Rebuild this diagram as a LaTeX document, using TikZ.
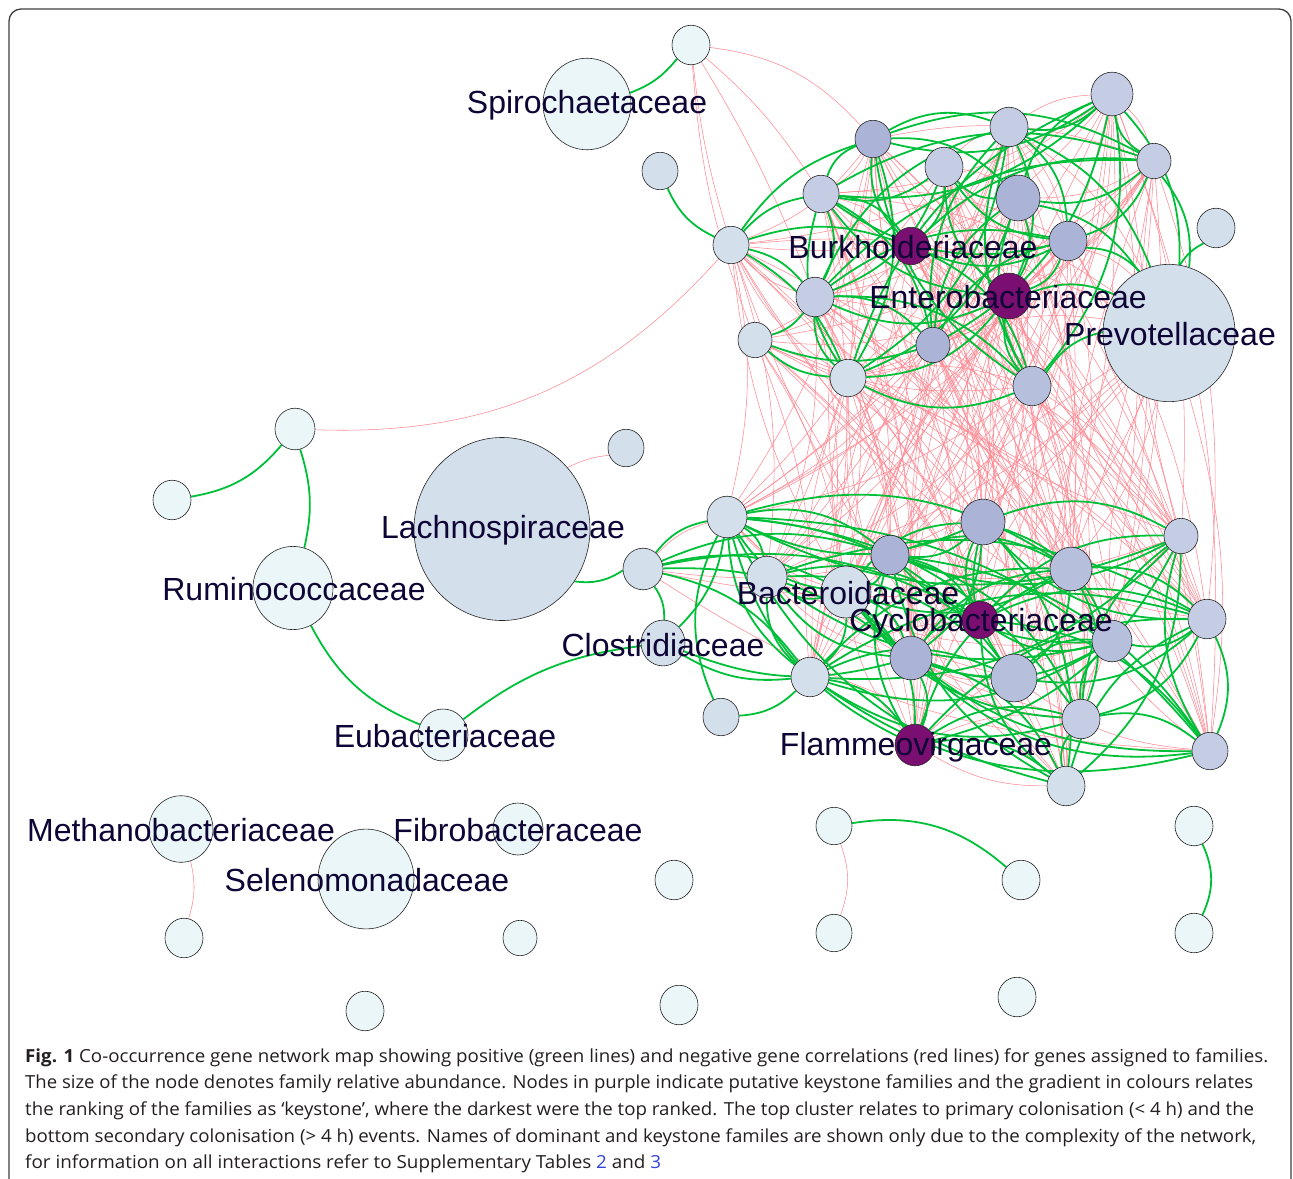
\documentclass[tikz,border=0pt]{standalone}
\usepackage{fontspec}
\usepackage{graphicx}
\usetikzlibrary{shapes.geometric}
\newfontfamily\lblfont{Liberation Sans}
\newfontfamily\capfont{Open Sans}
\definecolor{cvl}{HTML}{EBF6F8}
\definecolor{cl}{HTML}{D4DFEC}
\definecolor{cm}{HTML}{C4CDE3}
\definecolor{cmd}{HTML}{B6C0DD}
\definecolor{cd}{HTML}{ABB4D7}
\definecolor{cp}{HTML}{7A0E71}
\definecolor{gcol}{HTML}{00C03A}
\definecolor{rcol}{HTML}{FF8A94}
\definecolor{lblcol}{HTML}{0E0536}
\definecolor{capcol}{HTML}{231F20}
\definecolor{linkcol}{HTML}{3344DD}
\newsavebox\capbox
\newcommand\fitline[2]{\sbox\capbox{#2}\pgfmathsetmacro\fitsx{#1/\the\wd\capbox}\scalebox{\fitsx}[1]{\usebox\capbox}}
\newcommand\gnode[5]{\node[nd,minimum width=#4*2pt,minimum height=#4*2.08pt,fill=#5] (#1) at (#2,#3) {};}
\pgfdeclarelayer{bgl}
\pgfdeclarelayer{redl}
\pgfdeclarelayer{greenl}
\pgfdeclarelayer{lbll}
\pgfsetlayers{bgl,redl,greenl,main,lbll}
\begin{document}
\begin{tikzpicture}[x=1pt,y=-1pt,
  nd/.style={ellipse,draw=black!85,line width=0.6pt,inner sep=0pt},
  gline/.style={draw=gcol,line width=1.8pt},
  rline/.style={draw=rcol,line width=0.55pt},
  lbl/.style={font=\lblfont\fontsize{32}{32}\selectfont,text=lblcol,inner sep=0pt,anchor=base},
  capl/.style={font=\capfont\fontsize{18}{18}\selectfont,text=capcol,inner sep=0pt,anchor=base west}]
\useasboundingbox (0,0) rectangle (1293,1178);
\begin{pgfonlayer}{bgl}
\fill[white] (0,0) rectangle (1293,1178);
\end{pgfonlayer}
\draw[line width=1.3pt,draw=black!75,rounded corners=12pt] (9,1200) -- (9,9) -- (1291,9) -- (1291,1200);

% ---------- nodes: top cluster ----------
\gnode{P0}{691}{45}{19}{cvl}
\gnode{Spiro}{587}{104}{44}{cvl}
\gnode{P1}{660}{171}{18}{cl}
\gnode{T1}{873}{139}{18}{cd}
\gnode{T2}{944}{167}{19}{cm}
\gnode{T3}{1009}{127}{19}{cm}
\gnode{T4}{1112}{94}{21}{cm}
\gnode{T5}{1154}{161}{17}{cm}
\gnode{T6}{821}{194}{18}{cm}
\gnode{T7}{1018}{198}{22}{cd}
\gnode{T8}{911}{246}{18}{cp}
\gnode{T9}{1068}{241}{19}{cd}
\gnode{T10}{815}{297}{19}{cm}
\gnode{T11}{1009}{296}{22}{cp}
\gnode{T12}{933}{345}{17}{cd}
\gnode{T13}{848}{378}{18}{cl}
\gnode{T14}{1032}{386}{19}{cmd}
\gnode{T15}{731}{245}{18}{cl}
\gnode{T16}{755}{340}{17}{cl}
\gnode{T17}{1169}{333}{66}{cl}
\gnode{P2}{1216}{228}{19}{cl}
% ---------- middle left ----------
\gnode{M1}{295}{429}{20}{cvl}
\gnode{M2}{172}{500}{19}{cvl}
\gnode{Rumino}{293}{588}{40}{cvl}
\gnode{Lachno}{502}{529}{88}{cl}
\gnode{P3}{626}{448}{18}{cl}
\gnode{Eubac}{443}{735}{25}{cvl}
% ---------- bottom cluster ----------
\gnode{B1}{727}{517}{20}{cl}
\gnode{B2}{643}{569}{20}{cl}
\gnode{B3}{767}{577}{20}{cl}
\gnode{B4}{846}{592}{25}{cl}
\gnode{B5}{890}{555}{19}{cd}
\gnode{B6}{983}{522}{22}{cd}
\gnode{B7}{1071}{569}{21}{cmd}
\gnode{B8}{1181}{536}{17}{cm}
\gnode{B9}{980}{620}{18}{cp}
\gnode{B10}{1112}{641}{20}{cmd}
\gnode{B11}{1207}{619}{19}{cm}
\gnode{B12}{911}{658}{21}{cd}
\gnode{B13}{1014}{678}{23}{cmd}
\gnode{B14}{810}{677}{19}{cl}
\gnode{B15}{1081}{719}{19}{cm}
\gnode{B16}{915}{745}{20}{cp}
\gnode{B17}{1210}{751}{18}{cm}
\gnode{B18}{1066}{786}{19}{cl}
\gnode{B19}{663}{643}{22}{cl}
\gnode{B20}{721}{717}{18}{cl}
% ---------- bottom isolated ----------
\gnode{Methano}{181}{829}{32}{cvl}
\gnode{Z1}{184}{938}{19}{cvl}
\gnode{Fibro}{518}{829}{25}{cvl}
\gnode{Seleno}{366}{879}{48}{cvl}
\gnode{Z2}{520}{938}{17}{cvl}
\gnode{Z3}{365}{1011}{19}{cvl}
\gnode{Z4}{674}{880}{19}{cvl}
\gnode{Z5}{679}{1005}{19}{cvl}
\gnode{Q1}{834}{826}{18}{cvl}
\gnode{Q2}{1021}{880}{19}{cvl}
\gnode{Q3}{834}{933}{18}{cvl}
\gnode{Z6}{1017}{997}{19}{cvl}
\gnode{R1}{1194}{826}{19}{cvl}
\gnode{R2}{1194}{933}{19}{cvl}

% ---------- red (negative) edges ----------
\begin{pgfonlayer}{redl}
\foreach \i in {1,...,17}{
  \foreach \j in {1,3,4,5,6,7,8,9,10,11,12,13,14,15,16,17,18}{
    \pgfmathtruncatemacro\rr{mod(\i*5+\j*3,7)}
    \ifnum\rr<4
      \pgfmathtruncatemacro\ss{mod(\i*\j+\i,2)}
      \ifnum\ss=0 \draw[rline] (T\i) to[bend left=12] (B\j);
      \else \draw[rline] (T\i) to[bend right=12] (B\j);\fi
    \fi
  }
}
\foreach \i in {1,...,17}{
  \foreach \j in {1,...,17}{
    \ifnum\j>\i
      \pgfmathtruncatemacro\rr{mod(\i*3+\j*7,9)}
      \ifnum\rr<3 \draw[rline] (T\i) to[bend left=15] (T\j);\fi
    \fi
  }
}
\foreach \i in {1,...,18}{
  \foreach \j in {1,...,18}{
    \ifnum\j>\i
      \pgfmathtruncatemacro\rr{mod(\i*2+\j*5,11)}
      \ifnum\rr<2 \draw[rline] (B\i) to[bend right=15] (B\j);\fi
    \fi
  }
}
\draw[rline] (P0) to[bend left=20] (T1);
\draw[rline] (P0) to[bend left=8] (T6);
\draw[rline] (P0) to[bend right=5] (T15);
\draw[rline] (P0) to[bend right=8] (T16);
\draw[rline] (P0) to[bend left=5] (T10);
\draw[rline] (M1) to[bend right=25] (T15);
\draw[rline] (Lachno) to[bend left=10] (P3);
\draw[rline] (Methano) to[bend left=15] (Z1);
\draw[rline] (Q1) to[bend left=20] (Q3);
\end{pgfonlayer}

% ---------- green (positive) edges ----------
\begin{pgfonlayer}{greenl}
\foreach \i in {1,...,14}{
  \foreach \j in {1,...,14}{
    \ifnum\j>\i
      \pgfmathtruncatemacro\rr{mod(\i*7+\j*11,10)}
      \ifnum\rr<6
        \pgfmathtruncatemacro\ss{mod(\i+\j,2)}
        \ifnum\ss=0 \draw[gline] (T\i) to[bend left=24] (T\j);
        \else \draw[gline] (T\i) to[bend right=24] (T\j);\fi
      \fi
    \fi
  }
}
\foreach \i in {1,3,4,5,6,7,8,9,10,11,12,13,14,15,16,17,18}{
  \foreach \j in {1,3,4,5,6,7,8,9,10,11,12,13,14,15,16,17,18}{
    \ifnum\j>\i
      \pgfmathtruncatemacro\rr{mod(\i*7+\j*11,10)}
      \ifnum\rr<6
        \pgfmathtruncatemacro\ss{mod(\i+\j,2)}
        \ifnum\ss=0 \draw[gline] (B\i) to[bend left=24] (B\j);
        \else \draw[gline] (B\i) to[bend right=24] (B\j);\fi
      \fi
    \fi
  }
}
\draw[gline] (P0) to[bend left=15] (Spiro);
\draw[gline] (P1) to[bend right=20] (T15);
\foreach \t in {T6,T10,T1,T13,T8}{\draw[gline] (T15) to[bend left=18] (\t);}
\foreach \t in {T10,T13,T12}{\draw[gline] (T16) to[bend right=18] (\t);}
\foreach \t in {T4,T5,T9,T11,T14,T7,T3}{\draw[gline] (T17) to[bend right=22] (\t);}
\draw[gline] (T17) to[bend left=15] (P2);
\draw[gline] (M1) to[bend left=20] (M2);
\draw[gline] (M1) to[bend left=15] (Rumino);
\draw[gline] (Rumino) to[bend right=20] (Eubac);
\draw[gline] (Eubac) to[bend left=15] (B19);
\draw[gline] (Lachno) to[bend right=20] (B2);
\foreach \t in {B2,B14,B12,B1}{\draw[gline] (B19) to[bend right=18] (\t);}
\draw[gline] (B20) to[bend right=20] (B14);
\draw[gline] (B20) to[bend left=25] (B1);
\foreach \t in {B1,B4,B14,B12,B5,B9}{\draw[gline] (B2) to[bend left=20] (\t);}
\draw[gline] (Q1) to[bend left=25] (Q2);
\draw[gline] (R1) to[bend left=25] (R2);
\end{pgfonlayer}

% ---------- labels ----------
\begin{pgfonlayer}{lbll}
\node[lbl] (lSpiro) at (587,113) {Spirochaetaceae};
\node[lbl] (lBurk) at (913,258) {Burkholderiaceae};
\node[lbl] (lEntero) at (1008,308) {Enterobacteriaceae};
\node[lbl] (lPrevo) at (1170,345) {Prevotellaceae};
\node[lbl] (lLachno) at (503,538) {Lachnospiraceae};
\node[lbl] (lRumino) at (294,600) {Ruminococcaceae};
\node[lbl] (lBactero) at (848,604) {Bacteroidaceae};
\node[lbl] (lCyclo) at (981,631) {Cyclobacteriaceae};
\node[lbl] (lClostri) at (663,656) {Clostridiaceae};
\node[lbl] (lEubac) at (445,747) {Eubacteriaceae};
\node[lbl] (lFlammeo) at (916,755) {Flammeovirgaceae};
\node[lbl] (lMethano) at (181,841) {Methanobacteriaceae};
\node[lbl] (lFibro) at (518,841) {Fibrobacteraceae};
\node[lbl] (lSeleno) at (367,891) {Selenomonadaceae};
\end{pgfonlayer}

% ---------- caption ----------
\node[capl] (cap1) at (25,1062) {\fitline{1243}{\textbf{Fig. 1} Co-occurrence gene network map showing positive (green lines) and negative gene correlations (red lines) for genes assigned to families.}};
\node[capl] (cap2) at (25,1088) {\fitline{1228}{The size of the node denotes family relative abundance. Nodes in purple indicate putative keystone families and the gradient in colours relates}};
\node[capl] (cap3) at (25,1115) {\fitline{1229}{the ranking of the families as ‘keystone’, where the darkest were the top ranked. The top cluster relates to primary colonisation (< 4 h) and the}};
\node[capl] (cap4) at (25,1142) {\fitline{1231}{bottom secondary colonisation (> 4 h) events. Names of dominant and keystone familes are shown only due to the complexity of the network,}};
\node[capl] (cap5) at (25,1168) {\fitline{636}{for information on all interactions refer to Supplementary Tables \textcolor{linkcol}{2} and \textcolor{linkcol}{3}}};
\end{tikzpicture}
\end{document}
